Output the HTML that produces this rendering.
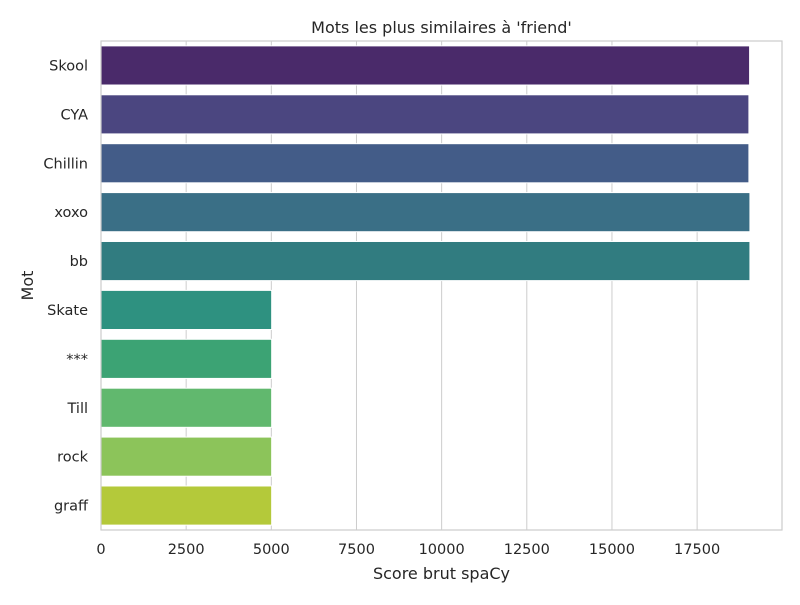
<!DOCTYPE html>
<html><head><meta charset="utf-8"><style>body{margin:0;background:#fff}svg{font-family:"DejaVu Sans","Liberation Sans",sans-serif}</style></head>
<body>
<svg id="c" width="800" height="600"></svg>
<script>
const words=["Skool","CYA","Chillin","xoxo","bb","Skate","***","Till","rock","graff"];
const scores=[19040,19020,19020,19050,19050,5010,5010,5010,5010,5010];
const colors=["#4a2a6a","#4b4680","#435c88","#3a6f86","#317c80","#2e9180","#3ca374","#61b86e","#8cc45a","#b4c93a"];
const ticks=[0,2500,5000,7500,10000,12500,15000,17500];
const L=101,R=782,T=41,B=530;
const x=v=>L+v*0.034064;
const band=(B-T)/words.length;
const y=i=>T+i*band;
const s=document.getElementById('c');const NS="http://www.w3.org/2000/svg";
function mk(t,a,txt){const e=document.createElementNS(NS,t);for(const k in a)e.setAttribute(k,a[k]);if(txt!==undefined)e.textContent=txt;s.appendChild(e);return e;}
ticks.forEach(t=>{const g=mk('line',{x1:x(t),x2:x(t),y1:T,y2:B,stroke:'#cccccc','stroke-width':1});


const l=mk('text',{x:x(t),y:554,'text-anchor':'middle','font-size':14.5,fill:'#262626'},String(t));

});
words.forEach((w,i)=>{const bh=band*0.8;const r=mk('rect',{x:L,y:y(i)+band*0.1,width:x(scores[i])-L,height:bh,fill:colors[i],stroke:'#fff','stroke-width':1});


const l=mk('text',{x:88,y:y(i)+band/2+5,'text-anchor':'end','font-size':14.5,fill:'#262626'},w);

});
const fr=mk('rect',{x:L,y:T,width:R-L,height:B-T,fill:'none',stroke:'#cccccc','stroke-width':1.2});


const ti=mk('text',{x:(L+R)/2,y:33,'text-anchor':'middle','font-size':16,fill:'#262626'},"Mots les plus similaires à 'friend'");


const xt=mk('text',{x:(L+R)/2,y:579,'text-anchor':'middle','font-size':16,fill:'#262626'},"Score brut spaCy");


const yt=mk('text',{x:33,y:(T+B)/2,'text-anchor':'middle','font-size':16,fill:'#262626',transform:`rotate(-90 33 ${(T+B)/2})`},"Mot");


</script>
</body></html>
